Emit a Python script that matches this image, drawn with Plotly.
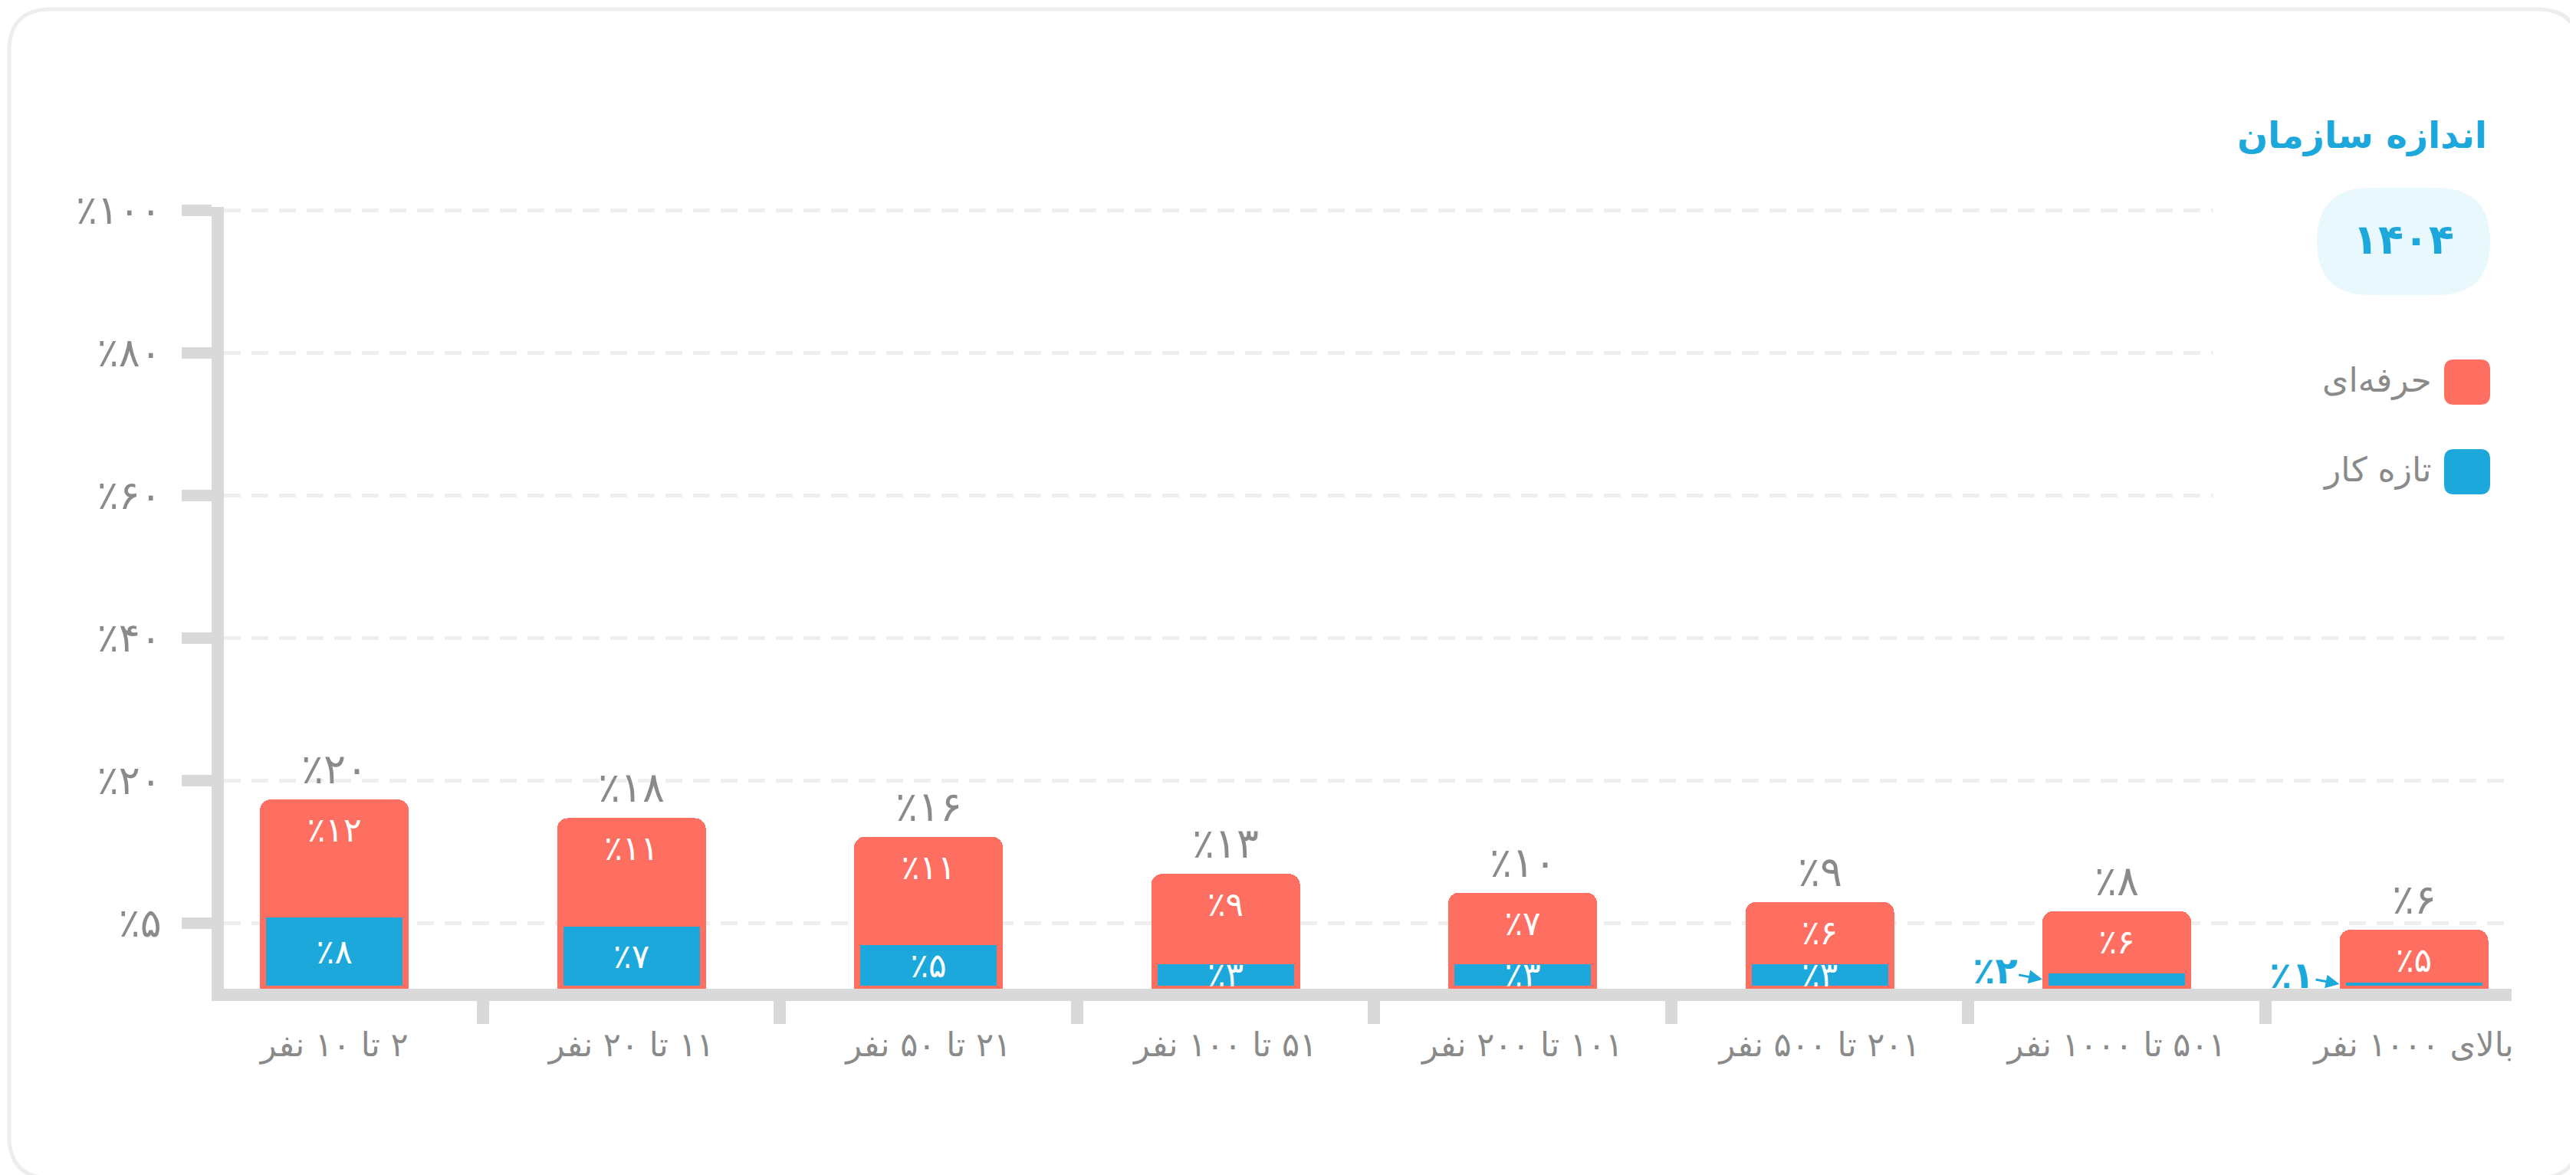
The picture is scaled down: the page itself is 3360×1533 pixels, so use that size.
import plotly.graph_objects as go

# data (percent)
categories = ["۲ تا ۱۰ نفر", "۱۱ تا ۲۰ نفر", "۲۱ تا ۵۰ نفر", "۵۱ تا ۱۰۰ نفر",
              "۱۰۱ تا ۲۰۰ نفر", "۲۰۱ تا ۵۰۰ نفر", "۵۰۱ تا ۱۰۰۰ نفر", "بالای ۱۰۰۰ نفر"]
pro = [12, 11, 11, 9, 7, 6, 6, 5]          # حرفه‌ای
novice = [8, 7, 5, 3, 3, 3, 2, 1]          # تازه کار
totals = [20, 18, 16, 13, 10, 9, 8, 6]
y_tick_labels = [5, 20, 40, 60, 80, 100]

title = "اندازه سازمان"
year = "1404"
name_pro = "حرفه‌ای"
name_novice = "تازه کار"

BLUE = "#1DA8DC"
RED = "#FF6F61"
GRAY = "#8A8A8A"
AXIS = "#D9D9D9"
GRID = "#EFEFEF"
FONT = "DejaVu Sans"

FA = str.maketrans("0123456789", "۰۱۲۳۴۵۶۷۸۹")


def fa(v):
    return str(v).translate(FA)


def pct(v):
    return "٪" + fa(v)


# page geometry
W, H = 3360, 1533
L, R, T, B = 284, 92, 262, 251
PW, PH = W - L - R, H - T - B


def px(x):
    return (x - L) / PW


def py(y):
    return (H - B - y) / PH


def rrect(x0, y0, x1, y1, r):
    pts = [("M", x0 + r, y0), ("L", x1 - r, y0), ("Q", x1, y0, x1, y0 + r),
           ("L", x1, y1 - r), ("Q", x1, y1, x1 - r, y1), ("L", x0 + r, y1),
           ("Q", x0, y1, x0, y1 - r), ("L", x0, y0 + r), ("Q", x0, y0, x0 + r, y0)]
    out = ""
    for p in pts:
        vals = p[1:]
        coords = []
        for k in range(0, len(vals), 2):
            coords.append(f"{px(vals[k]):.5f},{py(vals[k + 1]):.5f}")
        out += p[0] + " " + " ".join(coords) + " "
    return out + "Z"


RLE, PDF = "\u202b", "\u202c"
xcats = [RLE + c + PDF for c in categories]

xr = [-0.372, 7.329]
bargap = 0.52
cat_px = PW / (xr[1] - xr[0])
bar_px = (1 - bargap) * cat_px

fig = go.Figure()
fig.add_trace(go.Bar(
    x=xcats, y=novice, name=name_novice,
    marker=dict(color=BLUE, line=dict(color=RED, width=8)),
    text=[pct(v) if v >= 3 else "" for v in novice],
    textposition="inside", insidetextanchor="middle", textangle=0,
    textfont=dict(family=FONT, size=44, color="white"),
    showlegend=False, hoverinfo="skip"))
fig.add_trace(go.Bar(
    x=xcats, y=pro, name=name_pro,
    marker=dict(color=RED, line=dict(color=RED, width=8)),
    text=[pct(v) for v in pro],
    textposition="inside", insidetextanchor="end", textangle=0,
    textfont=dict(family=FONT, size=44, color="white"),
    showlegend=False, hoverinfo="skip"))

# helper trace so the decorative y2 axis is drawn
fig.add_trace(go.Scatter(x=[xcats[0]], y=[None], yaxis="y2", showlegend=False,
                         hoverinfo="skip"))

annotations = []
for i in range(len(categories)):
    annotations.append(dict(
        x=i, y=pro[i] + novice[i], xref="x", yref="y", text=pct(totals[i]),
        showarrow=False, yanchor="bottom", yshift=10,
        font=dict(family=FONT, size=54, color=GRAY)))
    if novice[i] < 3:
        annotations.append(dict(
            x=i, y=novice[i] / 2, xref="x", yref="y", text="<b>" + pct(novice[i]) + "</b>",
            showarrow=True, arrowhead=2, arrowsize=1.2, arrowwidth=3,
            arrowcolor=BLUE, ax=-62, ay=-12, xshift=-(bar_px / 2 + 4),
            font=dict(family=FONT, size=48, color=BLUE)))

annotations.append(dict(
    x=px(3238), y=py(168), xref="paper", yref="paper", text="<b>" + title + "</b>",
    xanchor="right", yanchor="middle", showarrow=False,
    font=dict(family=FONT, size=47, color=BLUE)))
annotations.append(dict(
    x=px(3127), y=py(305), xref="paper", yref="paper", text="<b>" + fa(year) + "</b>",
    xanchor="center", yanchor="middle", showarrow=False,
    font=dict(family=FONT, size=54, color=BLUE)))
annotations.append(dict(
    x=px(3166), y=py(488), xref="paper", yref="paper", text=name_pro,
    xanchor="right", yanchor="middle", showarrow=False,
    font=dict(family=FONT, size=44, color=GRAY)))
annotations.append(dict(
    x=px(3166), y=py(605), xref="paper", yref="paper", text=name_novice,
    xanchor="right", yanchor="middle", showarrow=False,
    font=dict(family=FONT, size=44, color=GRAY)))

shapes = [
    # white panel behind the legend area (hides gridlines there)
    dict(type="rect", xref="paper", yref="paper", x0=px(2879), x1=px(W), y0=py(720), y1=py(0),
         fillcolor="white", line=dict(width=0), layer="above"),
    dict(type="path", xref="paper", yref="paper", path=rrect(3014, 237, 3240, 377, 70),
         fillcolor="#E9F8FD", line=dict(width=0), layer="above"),
    dict(type="path", xref="paper", yref="paper", path=rrect(3180, 461, 3240, 520, 13),
         fillcolor=RED, line=dict(width=0), layer="above"),
    dict(type="path", xref="paper", yref="paper", path=rrect(3180, 578, 3240, 637, 13),
         fillcolor=BLUE, line=dict(width=0), layer="above"),
    # card border
    dict(type="path", xref="paper", yref="paper", path=rrect(4, 4, W - 4, H - 4, 55),
         fillcolor="rgba(0,0,0,0)", line=dict(color="#EDEDED", width=5), layer="above"),
]

fig.update_layout(
    width=W, height=H,
    margin=dict(l=L, r=R, t=T, b=B, pad=0),
    paper_bgcolor="white", plot_bgcolor="white",
    barmode="stack", bargap=bargap, barcornerradius=10,
    uniformtext=dict(minsize=44, mode="show"),
    font=dict(family=FONT, color=GRAY),
    xaxis=dict(
        type="category", range=xr, tickson="boundaries",
        showline=True, linecolor=AXIS, linewidth=16,
        ticks="outside", ticklen=30, tickwidth=16, tickcolor=AXIS,
        tickfont=dict(family=FONT, size=43, color=GRAY), ticklabelstandoff=20,
        showgrid=False, zeroline=False, fixedrange=True),
    yaxis=dict(range=[0, 84], visible=False, showgrid=False, zeroline=False),
    yaxis2=dict(
        overlaying="y", side="left", anchor="x",
        range=[-0.462, 5.0215], tickmode="array",
        tickvals=list(range(len(y_tick_labels))),
        ticktext=[pct(v) for v in y_tick_labels],
        showline=True, linecolor=AXIS, linewidth=16,
        ticks="outside", ticklen=39, tickwidth=15, tickcolor=AXIS,
        tickfont=dict(family=FONT, size=52, color=GRAY), ticklabelstandoff=16,
        showgrid=True, gridcolor=GRID, gridwidth=5, griddash="22px,14px",
        zeroline=False),
    annotations=annotations,
    shapes=shapes,
)

fig.write_html("out.html")
